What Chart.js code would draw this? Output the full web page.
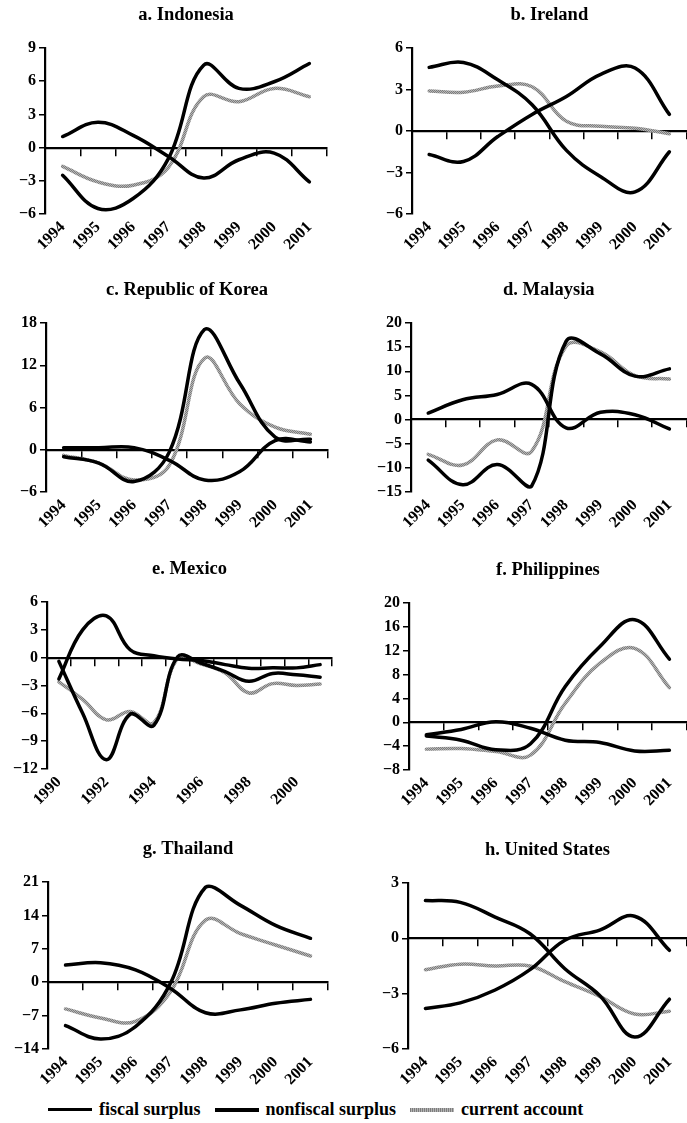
<!DOCTYPE html>
<html>
<head>
<meta charset="utf-8">
<script src="https://cdn.jsdelivr.net/npm/chart.js@4.4.1/dist/chart.umd.min.js"></script>
<style>
  body { margin: 0; background: #fff; }
  #page { position: relative; width: 687px; height: 1123px; overflow: hidden; }
  .panel { position: absolute; }
  #legend {
    position: absolute; left: 48px; top: 1099px;
    display: flex; align-items: center;
    font: bold 18px 'Liberation Serif', 'DejaVu Serif', serif; color: #000;
  }
  #legend .key { display: flex; align-items: center; margin-right: 14px; }
  #legend .swatch { display: inline-block; width: 44px; height: 3px; margin-right: 7px; background: #000; }
  #legend .swatch.thick { height: 4px; }
  #legend .swatch.grain { height: 4px; background: repeating-linear-gradient(90deg, #7d7d7d 0 1px, #b4b4b4 1px 2px); }
</style>
</head>
<body>
<div id="page">
  <div id="legend">
    <span class="key"><i class="swatch"></i>fiscal surplus</span>
    <span class="key"><i class="swatch thick"></i>nonfiscal surplus</span>
    <span class="key"><i class="swatch grain"></i>current account</span>
  </div>
</div>
<script>
// years on the category axis
const years = ['1994', '1995', '1996', '1997', '1998', '1999', '2000', '2001'];
const mexicoYears = ['1990', '1991', '1992', '1993', '1994', '1995', '1996', '1997', '1998', '1999', '2000', '2001'];

// percent of GDP
const indonesiaFiscal = [1.0, 2.3, 1.1, -0.8, -2.75, -1.1, -0.5, -3.1];
const indonesiaNonfiscal = [-2.5, -5.5, -4.6, -1.0, 7.45, 5.35, 5.95, 7.6];
const indonesiaCurrent = [-1.7, -3.1, -3.4, -1.8, 4.6, 4.15, 5.35, 4.6];
const indonesiaTicks = [-6, -3, 0, 3, 6, 9];

const irelandFiscal = [-1.7, -2.2, -0.4, 1.2, 2.5, 4.1, 4.55, 1.2];
const irelandNonfiscal = [4.6, 4.95, 3.7, 1.9, -1.4, -3.3, -4.4, -1.5];
const irelandCurrent = [2.9, 2.8, 3.25, 3.2, 0.7, 0.35, 0.2, -0.2];
const irelandTicks = [-6, -3, 0, 3, 6];

const koreaFiscal = [0.3, 0.3, 0.3, -1.5, -4.3, -3.1, 1.3, 1.1];
const koreaNonfiscal = [-1.0, -1.9, -4.5, -0.3, 17.1, 9.4, 1.8, 1.5];
const koreaCurrent = [-0.8, -1.9, -4.3, -2.2, 13.0, 6.5, 3.2, 2.2];
const koreaTicks = [-6, 0, 6, 12, 18];

const malaysiaFiscal = [1.35, 4.1, 5.2, 7.3, -1.7, 1.5, 1.0, -1.95];
const malaysiaNonfiscal = [-8.4, -13.5, -9.3, -13.8, 16.2, 13.6, 9.0, 10.5];
const malaysiaCurrent = [-7.2, -9.4, -4.2, -6.6, 15.2, 14.0, 9.1, 8.4];
const malaysiaTicks = [-15, -10, -5, 0, 5, 10, 15, 20];

const mexicoFiscal = [-2.3, 3.0, 4.5, 0.85, 0.2, -0.15, -0.3, -0.75, -1.15, -1.1, -1.1, -0.75];
const mexicoNonfiscal = [-0.4, -6.0, -11.0, -6.1, -7.3, 0.1, -0.6, -1.5, -2.55, -1.7, -1.85, -2.1];
const mexicoCurrent = [-2.6, -4.5, -6.7, -5.8, -7.0, -0.1, -0.7, -1.65, -3.8, -2.8, -3.0, -2.85];
const mexicoTicks = [-12, -9, -6, -3, 0, 3, 6];

const philippinesFiscal = [-2.1, -1.2, 0.1, -1.0, -3.0, -3.4, -4.8, -4.7];
const philippinesNonfiscal = [-2.3, -3.0, -4.6, -3.6, 6.0, 12.7, 17.2, 10.6];
const philippinesCurrent = [-4.5, -4.4, -4.9, -5.5, 3.2, 9.9, 12.4, 5.8];
const philippinesTicks = [-8, -4, 0, 4, 8, 12, 16, 20];

const thailandFiscal = [3.6, 4.1, 2.6, -1.3, -6.4, -5.8, -4.4, -3.6];
const thailandNonfiscal = [-9.1, -11.9, -9.3, -0.2, 19.9, 16.1, 11.9, 9.2];
const thailandCurrent = [-5.6, -7.5, -8.2, -2.0, 13.0, 10.2, 7.8, 5.5];
const thailandTicks = [-14, -7, 0, 7, 14, 21];

const usFiscal = [-3.8, -3.5, -2.8, -1.7, -0.1, 0.45, 1.2, -0.65];
const usNonfiscal = [2.05, 1.95, 1.15, 0.25, -1.65, -3.1, -5.35, -3.3];
const usCurrent = [-1.7, -1.4, -1.5, -1.5, -2.35, -3.15, -4.1, -3.95];
const usTicks = [-6, -3, 0, 3];

const panels = [
  { title: 'a. Indonesia', labels: years, fiscal: indonesiaFiscal, nonfiscal: indonesiaNonfiscal, current: indonesiaCurrent, ticks: indonesiaTicks },
  { title: 'b. Ireland', labels: years, fiscal: irelandFiscal, nonfiscal: irelandNonfiscal, current: irelandCurrent, ticks: irelandTicks },
  { title: 'c. Republic of Korea', labels: years, fiscal: koreaFiscal, nonfiscal: koreaNonfiscal, current: koreaCurrent, ticks: koreaTicks },
  { title: 'd. Malaysia', labels: years, fiscal: malaysiaFiscal, nonfiscal: malaysiaNonfiscal, current: malaysiaCurrent, ticks: malaysiaTicks },
  { title: 'e. Mexico', labels: mexicoYears, fiscal: mexicoFiscal, nonfiscal: mexicoNonfiscal, current: mexicoCurrent, ticks: mexicoTicks, everyOther: true },
  { title: 'f. Philippines', labels: years, fiscal: philippinesFiscal, nonfiscal: philippinesNonfiscal, current: philippinesCurrent, ticks: philippinesTicks },
  { title: 'g. Thailand', labels: years, fiscal: thailandFiscal, nonfiscal: thailandNonfiscal, current: thailandCurrent, ticks: thailandTicks },
  { title: 'h. United States', labels: years, fiscal: usFiscal, nonfiscal: usNonfiscal, current: usCurrent, ticks: usTicks }
];

// plot rectangle of each panel on the page: left, right, top, bottom
const plotAreas = [
  [45, 327, 48, 214], [412, 687, 48, 214],
  [46, 328, 323, 492], [411, 687, 323, 492],
  [47, 332, 602, 769], [409, 687, 603, 770],
  [48, 328, 882, 1049], [408, 687, 883, 1049]
];

const SERIF = "'Liberation Serif', 'DejaVu Serif', serif";
const TITLE_SPACE = 48;
const LABEL_SPACE = 52;
const TITLE_SIZE = 18.5;

// speckled grey stroke for the current account line
function grainPattern(ctx) {
  const c = document.createElement('canvas');
  c.width = 2; c.height = 2;
  const g = c.getContext('2d');
  g.fillStyle = '#7d7d7d';
  g.fillRect(0, 0, 2, 2);
  g.fillStyle = '#b6b6b6';
  g.fillRect(0, 0, 1, 1);
  g.fillRect(1, 1, 1, 1);
  return ctx.createPattern(c, 'repeat');
}

function formatTick(v) {
  return v < 0 ? '\u2212' + Math.abs(v) : String(v);
}

function drawPanel(p, area, index) {
  const colLeft = index % 2 === 0 ? 0 : 343;
  const colWidth = index % 2 === 0 ? 343 : 344;
  const [left, right, top, bottom] = area;

  const wrap = document.createElement('div');
  wrap.className = 'panel';
  wrap.style.left = colLeft + 'px';
  wrap.style.top = (top - TITLE_SPACE) + 'px';
  const canvas = document.createElement('canvas');
  canvas.width = colWidth;
  canvas.height = bottom - top + TITLE_SPACE + LABEL_SPACE;
  wrap.appendChild(canvas);
  document.getElementById('page').appendChild(wrap);

  const ctx = canvas.getContext('2d');
  const tickFont = { family: SERIF, size: 16, weight: 'bold' };

  new Chart(ctx, {
    type: 'line',
    data: {
      labels: p.labels,
      datasets: [
        { label: 'fiscal surplus', data: p.fiscal, borderColor: '#000', borderWidth: 3.5 },
        { label: 'nonfiscal surplus', data: p.nonfiscal, borderColor: '#000', borderWidth: 3.5 },
        { label: 'current account', data: p.current, borderColor: grainPattern(ctx), borderWidth: 3.5 }
      ]
    },
    options: {
      responsive: false,
      animation: false,
      events: [],
      layout: { padding: { left: 0, top: 0, bottom: 0, right: colLeft + colWidth - right } },
      elements: {
        point: { radius: 0 },
        line: { tension: 0.4, fill: false, borderCapStyle: 'round', borderJoinStyle: 'round' }
      },
      plugins: {
        legend: { display: false },
        tooltip: { enabled: false },
        title: {
          display: true,
          text: p.title,
          fullSize: false,
          color: '#000',
          font: { family: SERIF, size: TITLE_SIZE, weight: 'bold', lineHeight: 1.2 },
          padding: { top: 4, bottom: TITLE_SPACE - 4 - TITLE_SIZE * 1.2 }
        }
      },
      scales: {
        // year labels under the plot
        x: {
          type: 'category',
          position: 'bottom',
          offset: true,
          grid: { display: false, drawTicks: false },
          border: { display: false },
          ticks: {
            color: '#000',
            font: tickFont,
            autoSkip: false,
            minRotation: 45,
            maxRotation: 45,
            padding: 4,
            callback: function (value, i) {
              const label = this.getLabelForValue(value);
              return p.everyOther && i % 2 === 1 ? '' : label;
            }
          },
          afterFit: s => { s.height = LABEL_SPACE; }
        },
        // zero line with year ticks
        x0: {
          type: 'category',
          axis: 'x',
          position: { y: 0 },
          offset: true,
          grid: { display: true, drawOnChartArea: false, drawTicks: true, tickLength: 7, offset: true, color: '#000', lineWidth: 1.5 },
          border: { display: true, color: '#000', width: 2.2 },
          ticks: { display: false },
          afterFit: s => { s.height = 0; }
        },
        y: {
          min: p.ticks[0],
          max: p.ticks[p.ticks.length - 1],
          grid: { display: true, drawOnChartArea: false, drawTicks: true, tickLength: 6, color: '#000', lineWidth: 1.5 },
          border: { display: true, color: '#000', width: 2.2 },
          ticks: {
            stepSize: p.ticks[1] - p.ticks[0],
            color: '#000',
            font: tickFont,
            padding: 3,
            callback: v => formatTick(v)
          },
          afterFit: s => { s.width = left - colLeft; }
        }
      }
    }
  });
}

panels.forEach((p, i) => drawPanel(p, plotAreas[i], i));
</script>
</body>
</html>
